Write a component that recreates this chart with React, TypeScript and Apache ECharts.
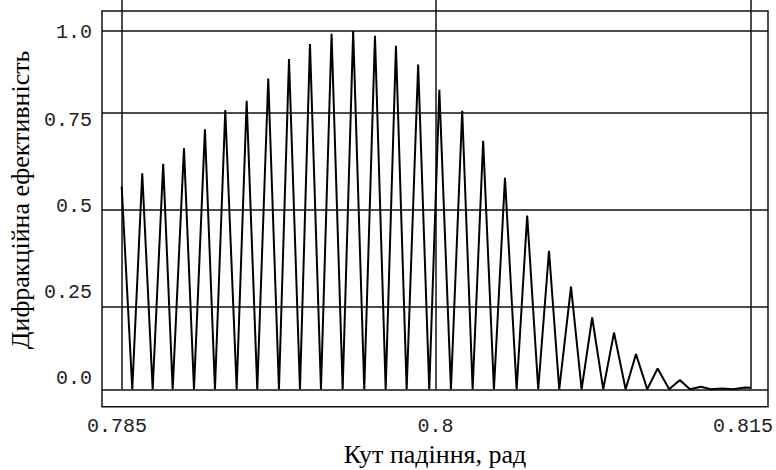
import React, { useEffect, useRef } from "react";
import * as echarts from "echarts";

// Angle of incidence (rad) at each diffraction maximum
const peakAngles = [
  0.785, 0.78598, 0.78698, 0.78797, 0.78897, 0.78994, 0.79096, 0.79199, 0.79298, 0.79398,
  0.79501, 0.79604, 0.79708, 0.79808, 0.79914, 0.80015, 0.80124, 0.80224, 0.80328, 0.80434,
  0.80538, 0.80643, 0.80744, 0.80848, 0.80953, 0.81056, 0.81162, 0.81263, 0.81363, 0.81475,
];
// Diffraction efficiency at each maximum
const peakValues = [
  0.565, 0.602, 0.628, 0.671, 0.724, 0.778, 0.804, 0.866, 0.92, 0.962,
  0.99, 0.998, 0.985, 0.957, 0.905, 0.834, 0.776, 0.692, 0.589, 0.484,
  0.386, 0.286, 0.2, 0.158, 0.098, 0.058, 0.026, 0.007, 0.002, 0.005,
];
// Angles of the zeros between maxima (efficiency 0 there)
const valleyAngles = [
  0.785505, 0.786478, 0.787432, 0.788448, 0.789449, 0.790484, 0.791466, 0.792501, 0.793503, 0.794504,
  0.795539, 0.796569, 0.79759, 0.798591, 0.799669, 0.800703, 0.801738, 0.802754, 0.803836, 0.804866,
  0.805868, 0.806936, 0.807966, 0.809034, 0.810064, 0.811113, 0.8121, 0.8131, 0.81415,
];
const valleyValue = 0;
const endPoint: [number, number] = [0.815, 0.004];

// Axis ticks / labels
const xTickValues = [0.785, 0.8, 0.815];
const xTickLabels = ["0.785", "0.8", "0.815"];
// where the x labels are centred in the original (value units)
const xLabelValues = [0.78478, 0.79997, 0.81463];
const yTickLabels = ["0.0", "0.25", "0.5", "0.75", "1.0"];
// where the horizontal grid lines and the y labels sit in the original (value units)
const yGridValues = [0, 0.229, 0.4994, 0.7705, 1.0];
const yLabelValues = [0.031, 0.271, 0.508, 0.75, 0.995];

const xName = "Кут падіння, рад";
const yName = "Дифракційна ефективність";

function buildCurve(): [number, number][] {
  const pts: [number, number][] = [];
  for (let i = 0; i < peakAngles.length; i++) {
    pts.push([peakAngles[i], peakValues[i]]);
    if (i < valleyAngles.length) pts.push([valleyAngles[i], valleyValue]);
  }
  pts.push(endPoint);
  return pts;
}

const GRID = { left: 102, top: 11, right: 8, bottom: 63.3 };
const GRID_W = 776 - GRID.left - GRID.right;
const GRID_H = 470 - GRID.top - GRID.bottom;

function nearestLabel(v: number, vals: number[], labels: string[]) {
  let best = 0;
  vals.forEach((t, i) => {
    if (Math.abs(t - v) < Math.abs(vals[best] - v)) best = i;
  });
  return labels[best];
}

export default function App() {
  const ref = useRef<HTMLDivElement>(null);
  useEffect(() => {
    if (!ref.current) return;
    const chart = echarts.init(ref.current, undefined, { renderer: "svg" });
    const lineColor = "#111";
    const tickFont = {
      fontFamily: "Liberation Mono",
      fontSize: 20,
      color: "#222",
    };
    chart.setOption({
      animation: false,
      backgroundColor: "#fff",
      grid: {
        ...GRID,
        containLabel: false,
        outerBoundsMode: "none",
        show: true,
        borderColor: lineColor,
        borderWidth: 1.5,
        backgroundColor: "transparent",
      },
      xAxis: {
        type: "value",
        min: 0.784061,
        max: 0.815825,
        axisLine: { show: false },
        splitLine: { show: false },
        axisTick: {
          show: true,
          inside: true,
          length: GRID_H,
          customValues: xTickValues,
          lineStyle: { color: lineColor, width: 1.5 },
        },
        axisLabel: {
          ...tickFont,
          margin: 10,
          customValues: xLabelValues,
          formatter: (v: number) => nearestLabel(v, xLabelValues, xTickLabels),
        },
        name: xName,
        nameLocation: "middle",
        nameGap: 35,
        nameTextStyle: {
          fontFamily: "Liberation Serif",
          fontSize: 26,
          lineHeight: 26,
          color: "#000",
        },
      },
      yAxis: {
        type: "value",
        min: -0.0485,
        max: 1.0538,
        axisLine: { show: false },
        splitLine: { show: false },
        axisTick: {
          show: true,
          inside: true,
          length: GRID_W,
          customValues: yGridValues,
          lineStyle: { color: lineColor, width: 1.5 },
        },
        axisLabel: {
          ...tickFont,
          margin: 10,
          customValues: yLabelValues,
          formatter: (v: number) => nearestLabel(v, yLabelValues, yTickLabels),
        },
        name: yName,
        nameLocation: "middle",
        nameRotate: 90,
        nameGap: 66,
        nameTextStyle: {
          fontFamily: "Liberation Serif",
          fontSize: 26,
          color: "#000",
          padding: [0, 0, 0, 18],
        },
      },
      series: [
        {
          type: "line",
          data: buildCurve(),
          showSymbol: false,
          symbol: "none",
          lineStyle: { color: "#000", width: 2 },
          clip: true,
        },
      ],
    });
    return () => chart.dispose();
  }, []);
  return (
    <div
      ref={ref}
      style={{ position: "fixed", left: 0, top: 0, width: 776, height: 470 }}
    />
  );
}
